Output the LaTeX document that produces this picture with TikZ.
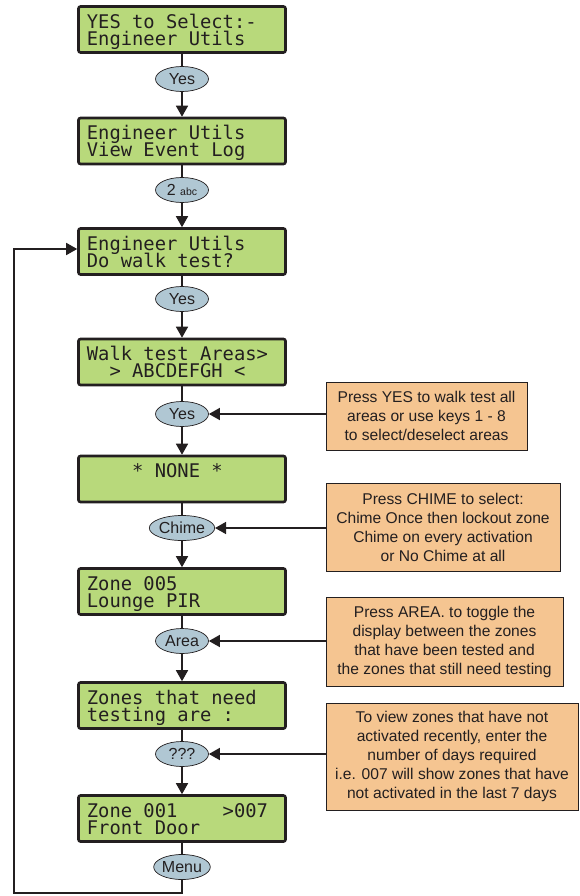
\documentclass[tikz,border=0pt]{standalone}
\usepackage{fontspec}
\setmainfont{Liberation Sans}
\newfontfamily\lcdfont{DejaVu Sans Mono}
\usetikzlibrary{shapes.geometric,arrows.meta,calc}
\definecolor{lcdgreen}{HTML}{B8D97B}
\definecolor{keyblue}{HTML}{B0C7D3}
\definecolor{notepeach}{HTML}{F5C591}
\definecolor{inkdark}{HTML}{231F20}
\newcommand\lcdbox[4]{%
  \node[lcd] (#1) at (182,#2) {};
  \node[lcdtxt] (#1a) at ($(#1.north west)+(9.5,23)$) {#3};
  \node[lcdtxt] (#1b) at ($(#1.north west)+(9.5,40)$) {#4};
}
\begin{document}
\begin{tikzpicture}[x=1pt,y=-1pt,
  lcd/.style={draw=inkdark, line width=2.6pt, fill=lcdgreen, rounded corners=2pt,
    minimum width=207pt, minimum height=46pt, inner sep=0pt},
  lcdtxt/.style={anchor=base west, inner sep=0pt, font=\lcdfont\fontsize{18.8}{17}\selectfont, text=inkdark},
  key/.style={ellipse, draw=inkdark, line width=0.7pt, fill=keyblue, minimum width=53pt,
    minimum height=25pt, inner sep=0pt, font=\fontsize{16}{18}\selectfont, text=inkdark},
  note/.style={draw=inkdark, line width=0.7pt, fill=notepeach, inner sep=0pt, align=center,
    font=\fontsize{15.6}{19}\selectfont, text=inkdark},
  link/.style={line width=1.6pt, draw=inkdark},
  arr/.style={link, -{Triangle[length=11pt,width=12pt]}}
]
\useasboundingbox (0,0) rectangle (580,896);

\lcdbox{b1}{29.5}{YES to Select:-}{Engineer Utils}
\lcdbox{b2}{141}{Engineer Utils}{View Event Log}
\lcdbox{b3}{251.5}{Engineer Utils}{Do walk test?}
\lcdbox{b4}{362}{Walk test Areas>}{\hphantom{00}> ABCDEFGH <}
\lcdbox{b5}{479}{\hphantom{0000}* NONE *}{}
\lcdbox{b6}{591.5}{Zone 005}{Lounge PIR}
\lcdbox{b7}{705.5}{Zones that need}{testing are :}
\lcdbox{b8}{818.5}{Zone 001\hphantom{0000}>007}{Front Door}

\node[key] (e1) at (182,79) {Yes};
\node[key] (e2) at (182,190) {2 {\fontsize{10.5}{12}\selectfont abc}};
\node[key] (e3) at (182,299) {Yes};
\node[key] (e4) at (182,414) {Yes};
\node[key] (e5) at (182,528) {Chime};
\node[key] (e6) at (182,641) {Area};
\node[key] (e7) at (182,754) {???};
\node[key] (e8) at (182,867) {Menu};

\node[note, minimum width=201pt, minimum height=68pt] (n1) at (426.5,416)
  {Press YES to walk test all\\areas or use keys 1 - 8\\to select/deselect areas};
\node[note, minimum width=234pt, minimum height=88pt] (n2) at (443,527)
  {Press CHIME to select:\\Chime Once then lockout zone\\Chime on every activation\\or No Chime at all};
\node[note, minimum width=237pt, minimum height=89pt] (n3) at (444.5,641.5)
  {Press AREA. to toggle the\\display between the zones\\that have been tested and\\the zones that still need testing};
\node[note, minimum width=252pt, minimum height=107pt] (n4) at (452,756.5)
  {To view zones that have not\\activated recently, enter the\\number of days required\\i.e. 007 will show zones that have\\not activated in the last 7 days};

\foreach \b/\e/\c in {b1/e1/b2, b2/e2/b3, b3/e3/b4, b4/e4/b5, b5/e5/b6, b6/e6/b7, b7/e7/b8} {
  \draw[link] (\b.south) -- (\e.north);
  \draw[arr] (\e.south) -- (\c.north);
}
\draw[link] (b8.south) -- (e8.north);

\draw[arr] (n1.west |- e4.east) -- (e4.east);
\draw[arr] (n2.west |- e5.east) -- (e5.east);
\draw[arr] (n3.west |- e6.east) -- (e6.east);
\draw[arr] (n4.west |- e7.east) -- (e7.east);

\coordinate (c1) at (182,893);
\coordinate (c2) at (14,893);
\coordinate (c3) at (14,249);
\draw[arr] (e8.south) -- (c1) -- (c2) -- (c3) -- (b3.west |- c3);
\end{tikzpicture}
\end{document}
